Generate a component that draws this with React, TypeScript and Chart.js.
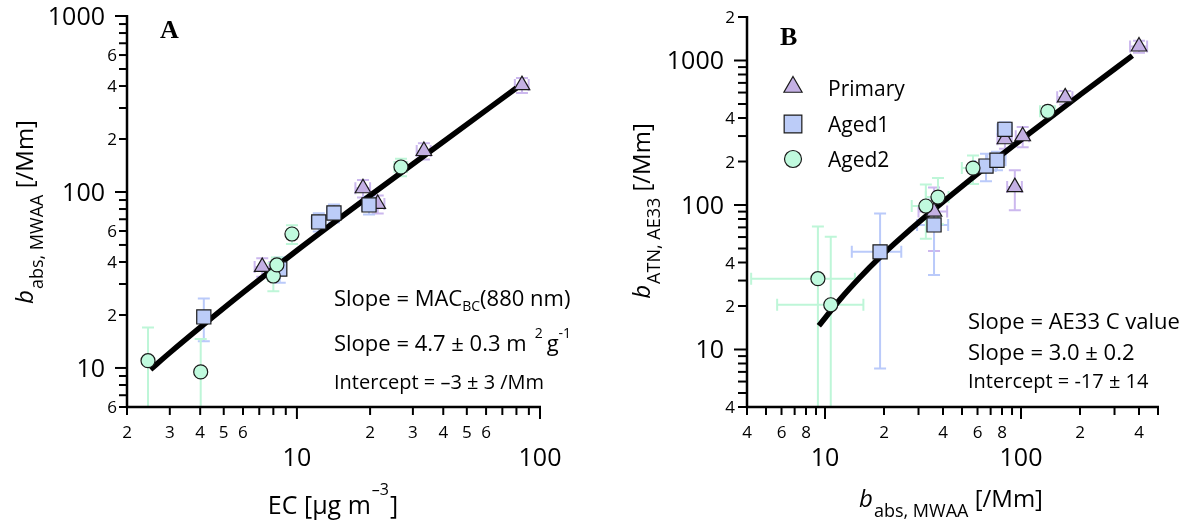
import React, { useEffect, useRef } from 'react';
import { Chart, registerables } from 'chart.js';

Chart.register(...registerables);

const FONT = '"Open Sans", "Noto Sans", "DejaVu Sans", sans-serif';
const SERIF = '"Liberation Serif", "DejaVu Serif", serif';

const PRIMARY_FILL = 'rgb(196,176,228)';
const PRIMARY_ERR = 'rgb(204,184,238)';
const AGED1_FILL = 'rgb(188,204,248)';
const AGED1_ERR = 'rgb(186,202,250)';
const AGED2_FILL = 'rgb(192,250,222)';
const AGED2_ERR = 'rgb(190,246,216)';
const MARKER_EDGE = '#1a1a1a';

// ---------------- Panel A : b_abs,MWAA vs EC ----------------
const aPrimaryEC = [7.2, 18.7, 21.5, 33.3, 84.3];
const aPrimaryBabs = [37.5, 105, 85.5, 171, 405];
const aPrimaryECErr = [0.5, 1.3, 1.4, 2.2, 5.5];
const aPrimaryBabsErr = [4.5, 12, 10, 18, 40];

const aAged1EC = [4.14, 8.5, 12.3, 14.2, 19.8];
const aAged1Babs = [19.5, 36.5, 67.6, 76, 84.4];
const aAged1ECErr = [0.15, 0.5, 0.8, 0.9, 1.3];
const aAged1BabsErr = [5.3, 6, 8, 9, 10];

const aAged2EC = [2.44, 4.02, 8.0, 8.27, 9.54, 26.8];
const aAged2Babs = [11.0, 9.5, 33.3, 38.5, 57.7, 138.7];
const aAged2ECErr = [0, 0, 0.4, 0.4, 0.4, 1.6];
const aAged2BabsErr = [6, 5.1, 6, 4, 7, 16];

const aFitEC = [2.5, 3, 4, 6, 10, 20, 40, 80];
const aFitBabs = [9.8, 12.2, 17.0, 26.8, 46.5, 95.5, 193, 390];

const aXTicks = [2, 3, 4, 5, 6, 7, 8, 9, 10, 20, 30, 40, 50, 60, 70, 80, 90, 100];
const aXTickLabels = ['2', '3', '4', '5', '6', '', '', '', '10', '2', '3', '4', '5', '6', '', '', '', '100'];
const aYTicks = [6, 7, 8, 9, 10, 20, 30, 40, 50, 60, 70, 80, 90, 100, 200, 300, 400, 500, 600, 700, 800, 900, 1000];
const aYTickLabels = ['6', '', '', '', '10', '2', '', '4', '', '6', '', '', '', '100', '2', '', '4', '', '6', '', '', '', '1000'];

// ---------------- Panel B : b_ATN,AE33 vs b_abs,MWAA ----------------
const bPrimaryMWAA = [36, 82.8, 102, 93, 168, 400];
const bPrimaryATN = [90, 285, 299, 133, 556, 1250];
const bPrimaryMWAAErr = [6, 7, 8, 8, 15, 40];
const bPrimaryATNErr = [42, 40, 48, 41, 60, 120];

const bAged1MWAA = [19.1, 36, 66.3, 75.4, 82.8];
const bAged1ATN = [47.4, 72.8, 186, 204, 334];
const bAged1MWAAErr = [5.4, 6.5, 8, 8, 7];
const bAged1ATNErr = [40, 40, 40, 30, 40];

const bAged2MWAA = [9.2, 10.7, 32.7, 37.7, 56.9, 137];
const bAged2ATN = [30.9, 20.4, 98.4, 113.5, 180, 445];
const bAged2MWAAErr = [5, 5, 5, 5, 7, 12];
const bAged2ATNErr = [40, 40, 40, 40, 40, 40];

const bFitMWAA = [9.3, 12, 15, 19, 25, 40, 70, 100, 200, 370];
const bFitATN = [14.6, 22.4, 31.3, 43.3, 61, 105, 194, 283, 578, 1080];

const bXTicks = [4, 5, 6, 7, 8, 9, 10, 20, 30, 40, 50, 60, 70, 80, 90, 100, 200, 300, 400, 500];
const bXTickLabels = ['4', '', '6', '', '8', '', '10', '2', '', '4', '', '6', '', '8', '', '100', '2', '', '4', ''];
const bYTicks = [4, 5, 6, 7, 8, 9, 10, 20, 30, 40, 50, 60, 70, 80, 90, 100, 200, 300, 400, 500, 600, 700, 800, 900, 1000, 2000];
const bYTickLabels = ['4', '', '', '', '', '', '10', '2', '', '4', '', '', '', '', '', '100', '2', '', '4', '', '', '', '', '', '1000', '2'];

const seriesNames = ['Primary', 'Aged1', 'Aged2'];

// ---------------- types & helpers ----------------
type Seg = { t: string; size: number; dy?: number; italic?: boolean; gap?: number };
type Group = {
  x: number[]; y: number[]; ex: number[]; ey: number[];
  style: 'triangle' | 'rect' | 'circle'; radius: number; fill: string; err: string; label: string;
};
type Note = { segs: Seg[]; x: number; y: number };
type PanelCfg = {
  xMin: number; xMax: number; yMin: number; yMax: number;
  padding: { left: number; right: number; top: number; bottom: number };
  xTicks: number[]; xTickLabels: string[]; yTicks: number[]; yTickLabels: string[];
  yTickLen: [number, number]; yMinorGap: number; yMajorGap: number;
  groups: Group[]; fitX: number[]; fitY: number[];
  yTitle: Seg[]; yTitleX: number; yTitleY: number;
  xTitle: Seg[]; xTitleX: number; xTitleY: number;
  notes: Note[];
  letter: string; letterX: number; letterY: number;
  legend?: { x: number; textX: number; ys: number[]; textYs: number[] };
};

const isMajor = (v: number) => Math.abs(Math.log10(v) - Math.round(Math.log10(v))) < 1e-9;

function fontOf(s: Seg) {
  return `${s.italic ? 'italic ' : ''}${s.size}px ${FONT}`;
}
function richWidth(ctx: CanvasRenderingContext2D, segs: Seg[]) {
  let w = 0;
  for (const s of segs) {
    ctx.font = fontOf(s);
    w += (s.gap || 0) + ctx.measureText(s.t).width;
  }
  return w;
}
function drawRich(ctx: CanvasRenderingContext2D, segs: Seg[], x: number, y: number, align: 'left' | 'center') {
  let cx = align === 'center' ? x - richWidth(ctx, segs) / 2 : x;
  ctx.textAlign = 'left';
  ctx.textBaseline = 'alphabetic';
  for (const s of segs) {
    ctx.font = fontOf(s);
    cx += s.gap || 0;
    ctx.fillText(s.t, cx, y + (s.dy || 0));
    cx += ctx.measureText(s.t).width;
  }
}
function markerPath(ctx: CanvasRenderingContext2D, style: string, x: number, y: number, r: number) {
  ctx.beginPath();
  if (style === 'circle') {
    ctx.arc(x, y, r, 0, Math.PI * 2);
  } else if (style === 'rect') {
    const h = r * Math.SQRT1_2;
    ctx.rect(x - h, y - h, 2 * h, 2 * h);
  } else {
    for (let k = 0; k < 3; k++) {
      const a = (k * 2 * Math.PI) / 3;
      const px = x + Math.sin(a) * r;
      const py = y - Math.cos(a) * r;
      if (k === 0) ctx.moveTo(px, py); else ctx.lineTo(px, py);
    }
    ctx.closePath();
  }
}

// ---------------- panel definitions ----------------
const groupsA: Group[] = [
  { x: aPrimaryEC, y: aPrimaryBabs, ex: aPrimaryECErr, ey: aPrimaryBabsErr, style: 'triangle', radius: 9, fill: PRIMARY_FILL, err: PRIMARY_ERR, label: seriesNames[0] },
  { x: aAged1EC, y: aAged1Babs, ex: aAged1ECErr, ey: aAged1BabsErr, style: 'rect', radius: 10, fill: AGED1_FILL, err: AGED1_ERR, label: seriesNames[1] },
  { x: aAged2EC, y: aAged2Babs, ex: aAged2ECErr, ey: aAged2BabsErr, style: 'circle', radius: 7, fill: AGED2_FILL, err: AGED2_ERR, label: seriesNames[2] },
];
const groupsB: Group[] = [
  { x: bPrimaryMWAA, y: bPrimaryATN, ex: bPrimaryMWAAErr, ey: bPrimaryATNErr, style: 'triangle', radius: 9, fill: PRIMARY_FILL, err: PRIMARY_ERR, label: seriesNames[0] },
  { x: bAged1MWAA, y: bAged1ATN, ex: bAged1MWAAErr, ey: bAged1ATNErr, style: 'rect', radius: 10, fill: AGED1_FILL, err: AGED1_ERR, label: seriesNames[1] },
  { x: bAged2MWAA, y: bAged2ATN, ex: bAged2MWAAErr, ey: bAged2ATNErr, style: 'circle', radius: 7, fill: AGED2_FILL, err: AGED2_ERR, label: seriesNames[2] },
];

const panelA: PanelCfg = {
  xMin: 2, xMax: 100, yMin: 6, yMax: 1000,
  padding: { left: 127, right: 55, top: 16, bottom: 118 },
  xTicks: aXTicks, xTickLabels: aXTickLabels, yTicks: aYTicks, yTickLabels: aYTickLabels,
  yTickLen: [12, 8], yMinorGap: 10, yMajorGap: 22,
  groups: groupsA, fitX: aFitEC, fitY: aFitBabs,
  yTitle: [
    { t: 'b', size: 24, italic: true },
    { t: 'abs, MWAA', size: 18, dy: 10, gap: 1 },
    { t: ' [/Mm]', size: 24 },
  ],
  yTitleX: 33, yTitleY: 212,
  xTitle: [
    { t: 'EC [µg m', size: 25 },
    { t: '–3', size: 16, dy: -19, gap: 1 },
    { t: ']', size: 25, gap: 1 },
  ],
  xTitleX: 333, xTitleY: 514,
  notes: [
    { segs: [{ t: 'Slope = MAC', size: 22 }, { t: 'BC', size: 14, dy: 5 }, { t: '(880 nm)', size: 22 }], x: 334, y: 306 },
    { segs: [{ t: 'Slope = 4.7 ± 0.3 m', size: 22 }, { t: '2', size: 14, dy: -13, gap: 8 }, { t: 'g', size: 22, gap: 4 }, { t: '-1', size: 14, dy: -13, gap: 0 }], x: 334, y: 351 },
    { segs: [{ t: 'Intercept = –3 ± 3 /Mm', size: 20 }], x: 334, y: 389 },
  ],
  letter: 'A', letterX: 160, letterY: 38,
};

const panelB: PanelCfg = {
  xMin: 4, xMax: 500, yMin: 4, yMax: 2000,
  padding: { left: 152, right: 32, top: 17, bottom: 118 },
  xTicks: bXTicks, xTickLabels: bXTickLabels, yTicks: bYTicks, yTickLabels: bYTickLabels,
  yTickLen: [13, 9], yMinorGap: 12, yMajorGap: 23,
  groups: groupsB, fitX: bFitMWAA, fitY: bFitATN,
  yTitle: [
    { t: 'b', size: 24, italic: true },
    { t: 'ATN, AE33', size: 18, dy: 10, gap: 1 },
    { t: ' [/Mm]', size: 24 },
  ],
  yTitleX: 55, yTitleY: 211,
  xTitle: [
    { t: 'b', size: 24, italic: true },
    { t: 'abs, MWAA', size: 18, dy: 10, gap: 1 },
    { t: ' [/Mm]', size: 24 },
  ],
  xTitleX: 356, xTitleY: 507,
  notes: [
    { segs: [{ t: 'Slope = AE33 C value', size: 22 }], x: 373, y: 329 },
    { segs: [{ t: 'Slope = 3.0 ± 0.2', size: 22 }], x: 373, y: 360 },
    { segs: [{ t: 'Intercept = -17 ± 14', size: 20 }], x: 373, y: 388 },
  ],
  letter: 'B', letterX: 185, letterY: 45,
  legend: { x: 198, textX: 233, ys: [87, 124, 159], textYs: [96, 132, 167] },
};

// ---------------- chart builder ----------------
function buildConfig(p: PanelCfg): any {
  const decor = {
    id: 'panelDecor',
    beforeDatasetsDraw(chart: any) {
      const ctx: CanvasRenderingContext2D = chart.ctx;
      const ca = chart.chartArea;
      const xs = chart.scales.x;
      const ys = chart.scales.y;
      ctx.save();
      ctx.beginPath();
      ctx.rect(ca.left, ca.top, ca.right - ca.left, ca.bottom - ca.top);
      ctx.clip();
      ctx.lineWidth = 2;
      const cap = 6;
      for (const g of p.groups) {
        ctx.strokeStyle = g.err;
        g.x.forEach((xv, i) => {
          const yv = g.y[i];
          const px = xs.getPixelForValue(xv);
          const py = ys.getPixelForValue(yv);
          const ey = g.ey[i];
          const ex = g.ex[i];
          ctx.beginPath();
          if (ey > 0) {
            const top = ys.getPixelForValue(yv + ey);
            const lowV = yv - ey;
            const bot = lowV > 0 ? ys.getPixelForValue(lowV) : ca.bottom + 30;
            ctx.moveTo(px, top); ctx.lineTo(px, bot);
            ctx.moveTo(px - cap, top); ctx.lineTo(px + cap, top);
            if (lowV > 0) { ctx.moveTo(px - cap, bot); ctx.lineTo(px + cap, bot); }
          }
          if (ex > 0) {
            const right = xs.getPixelForValue(xv + ex);
            const lowX = xv - ex;
            const left = lowX > 0 ? xs.getPixelForValue(lowX) : ca.left - 30;
            ctx.moveTo(left, py); ctx.lineTo(right, py);
            ctx.moveTo(right, py - cap); ctx.lineTo(right, py + cap);
            if (lowX > 0) { ctx.moveTo(left, py - cap); ctx.lineTo(left, py + cap); }
          }
          ctx.stroke();
        });
      }
      ctx.restore();
    },
    afterDraw(chart: any) {
      const ctx: CanvasRenderingContext2D = chart.ctx;
      const ca = chart.chartArea;
      const xs = chart.scales.x;
      const ys = chart.scales.y;
      ctx.save();
      ctx.strokeStyle = '#000';
      ctx.fillStyle = '#000';
      ctx.lineCap = 'butt';
      // axis lines
      ctx.lineWidth = 2.5;
      ctx.beginPath();
      ctx.moveTo(ca.left, ca.top - 1);
      ctx.lineTo(ca.left, ca.bottom + 1.25);
      ctx.moveTo(ca.left - 1.25, ca.bottom);
      ctx.lineTo(ca.right + 1, ca.bottom);
      ctx.stroke();
      // y ticks + labels
      ctx.lineWidth = 2;
      p.yTicks.forEach((v, i) => {
        const py = ys.getPixelForValue(v);
        const maj = isMajor(v);
        const len = maj ? p.yTickLen[0] : p.yTickLen[1];
        ctx.beginPath();
        ctx.moveTo(ca.left - len, py);
        ctx.lineTo(ca.left, py);
        ctx.stroke();
        const lab = p.yTickLabels[i];
        if (lab) {
          const size = maj ? 25 : 17;
          ctx.font = `${size}px ${FONT}`;
          ctx.textAlign = 'right';
          ctx.textBaseline = 'alphabetic';
          ctx.fillText(lab, ca.left - (maj ? p.yMajorGap : p.yMinorGap), py + size * 0.36);
        }
      });
      // x ticks + labels
      p.xTicks.forEach((v, i) => {
        const px = xs.getPixelForValue(v);
        const maj = isMajor(v);
        const len = maj ? 12 : 8;
        ctx.beginPath();
        ctx.moveTo(px, ca.bottom);
        ctx.lineTo(px, ca.bottom + len);
        ctx.stroke();
        const lab = p.xTickLabels[i];
        if (lab) {
          const size = maj ? 25 : 17;
          ctx.font = `${size}px ${FONT}`;
          ctx.textAlign = 'center';
          ctx.textBaseline = 'alphabetic';
          const cy = ca.bottom + (maj ? 50 : 25);
          ctx.fillText(lab, px, cy + size * 0.36);
        }
      });
      // axis titles
      drawRich(ctx, p.xTitle, p.xTitleX, p.xTitleY, 'center');
      ctx.save();
      ctx.translate(p.yTitleX, p.yTitleY);
      ctx.rotate(-Math.PI / 2);
      drawRich(ctx, p.yTitle, 0, 0, 'center');
      ctx.restore();
      // notes
      for (const n of p.notes) drawRich(ctx, n.segs, n.x, n.y, 'left');
      // panel letter
      ctx.font = `bold 26px ${SERIF}`;
      ctx.textAlign = 'left';
      ctx.textBaseline = 'alphabetic';
      ctx.fillText(p.letter, p.letterX, p.letterY);
      // legend
      if (p.legend) {
        const L = p.legend;
        const radii = [10.5, 12.5, 8.5];
        p.groups.forEach((g, i) => {
          markerPath(ctx, g.style, L.x, L.ys[i], radii[i]);
          ctx.fillStyle = g.fill;
          ctx.fill();
          ctx.lineWidth = 1.2;
          ctx.strokeStyle = MARKER_EDGE;
          ctx.stroke();
          ctx.fillStyle = '#000';
          ctx.font = `21px ${FONT}`;
          ctx.textAlign = 'left';
          ctx.fillText(g.label, L.textX, L.textYs[i]);
        });
      }
      ctx.restore();
    },
  };

  const datasets: any[] = [
    {
      type: 'line',
      label: 'fit',
      data: p.fitX.map((x, i) => ({ x, y: p.fitY[i] })),
      borderColor: '#000',
      borderWidth: 5.5,
      pointRadius: 0,
      fill: false,
      cubicInterpolationMode: 'monotone',
      order: 10,
    },
    ...p.groups.map((g, gi) => ({
      type: 'scatter',
      label: g.label,
      data: g.x.map((x, i) => ({ x, y: g.y[i] })),
      pointStyle: g.style,
      pointRadius: g.radius,
      pointHoverRadius: g.radius,
      backgroundColor: g.fill,
      borderColor: MARKER_EDGE,
      borderWidth: 1.2,
      order: p.groups.length - gi,
    })),
  ];

  return {
    type: 'scatter',
    data: { datasets },
    options: {
      animation: false,
      responsive: false,
      maintainAspectRatio: false,
      events: [],
      layout: { padding: p.padding },
      plugins: { legend: { display: false }, tooltip: { enabled: false }, title: { display: false } },
      scales: {
        x: { type: 'logarithmic', min: p.xMin, max: p.xMax, display: false },
        y: { type: 'logarithmic', min: p.yMin, max: p.yMax, display: false },
      },
    },
    plugins: [decor],
  };
}

function Panel({ cfg, left }: { cfg: PanelCfg; left: number }) {
  const ref = useRef<HTMLCanvasElement>(null);
  useEffect(() => {
    const chart = new Chart(ref.current as HTMLCanvasElement, buildConfig(cfg));
    return () => chart.destroy();
  }, [cfg]);
  return (
    <canvas
      ref={ref}
      width={595}
      height={525}
      style={{ position: 'absolute', left, top: 0, width: 595, height: 525 }}
    />
  );
}

export default function App() {
  return (
    <div style={{ position: 'absolute', left: 0, top: 0, width: 1190, height: 525, background: '#fff', overflow: 'hidden' }}>
      <Panel cfg={panelA} left={0} />
      <Panel cfg={panelB} left={595} />
    </div>
  );
}
